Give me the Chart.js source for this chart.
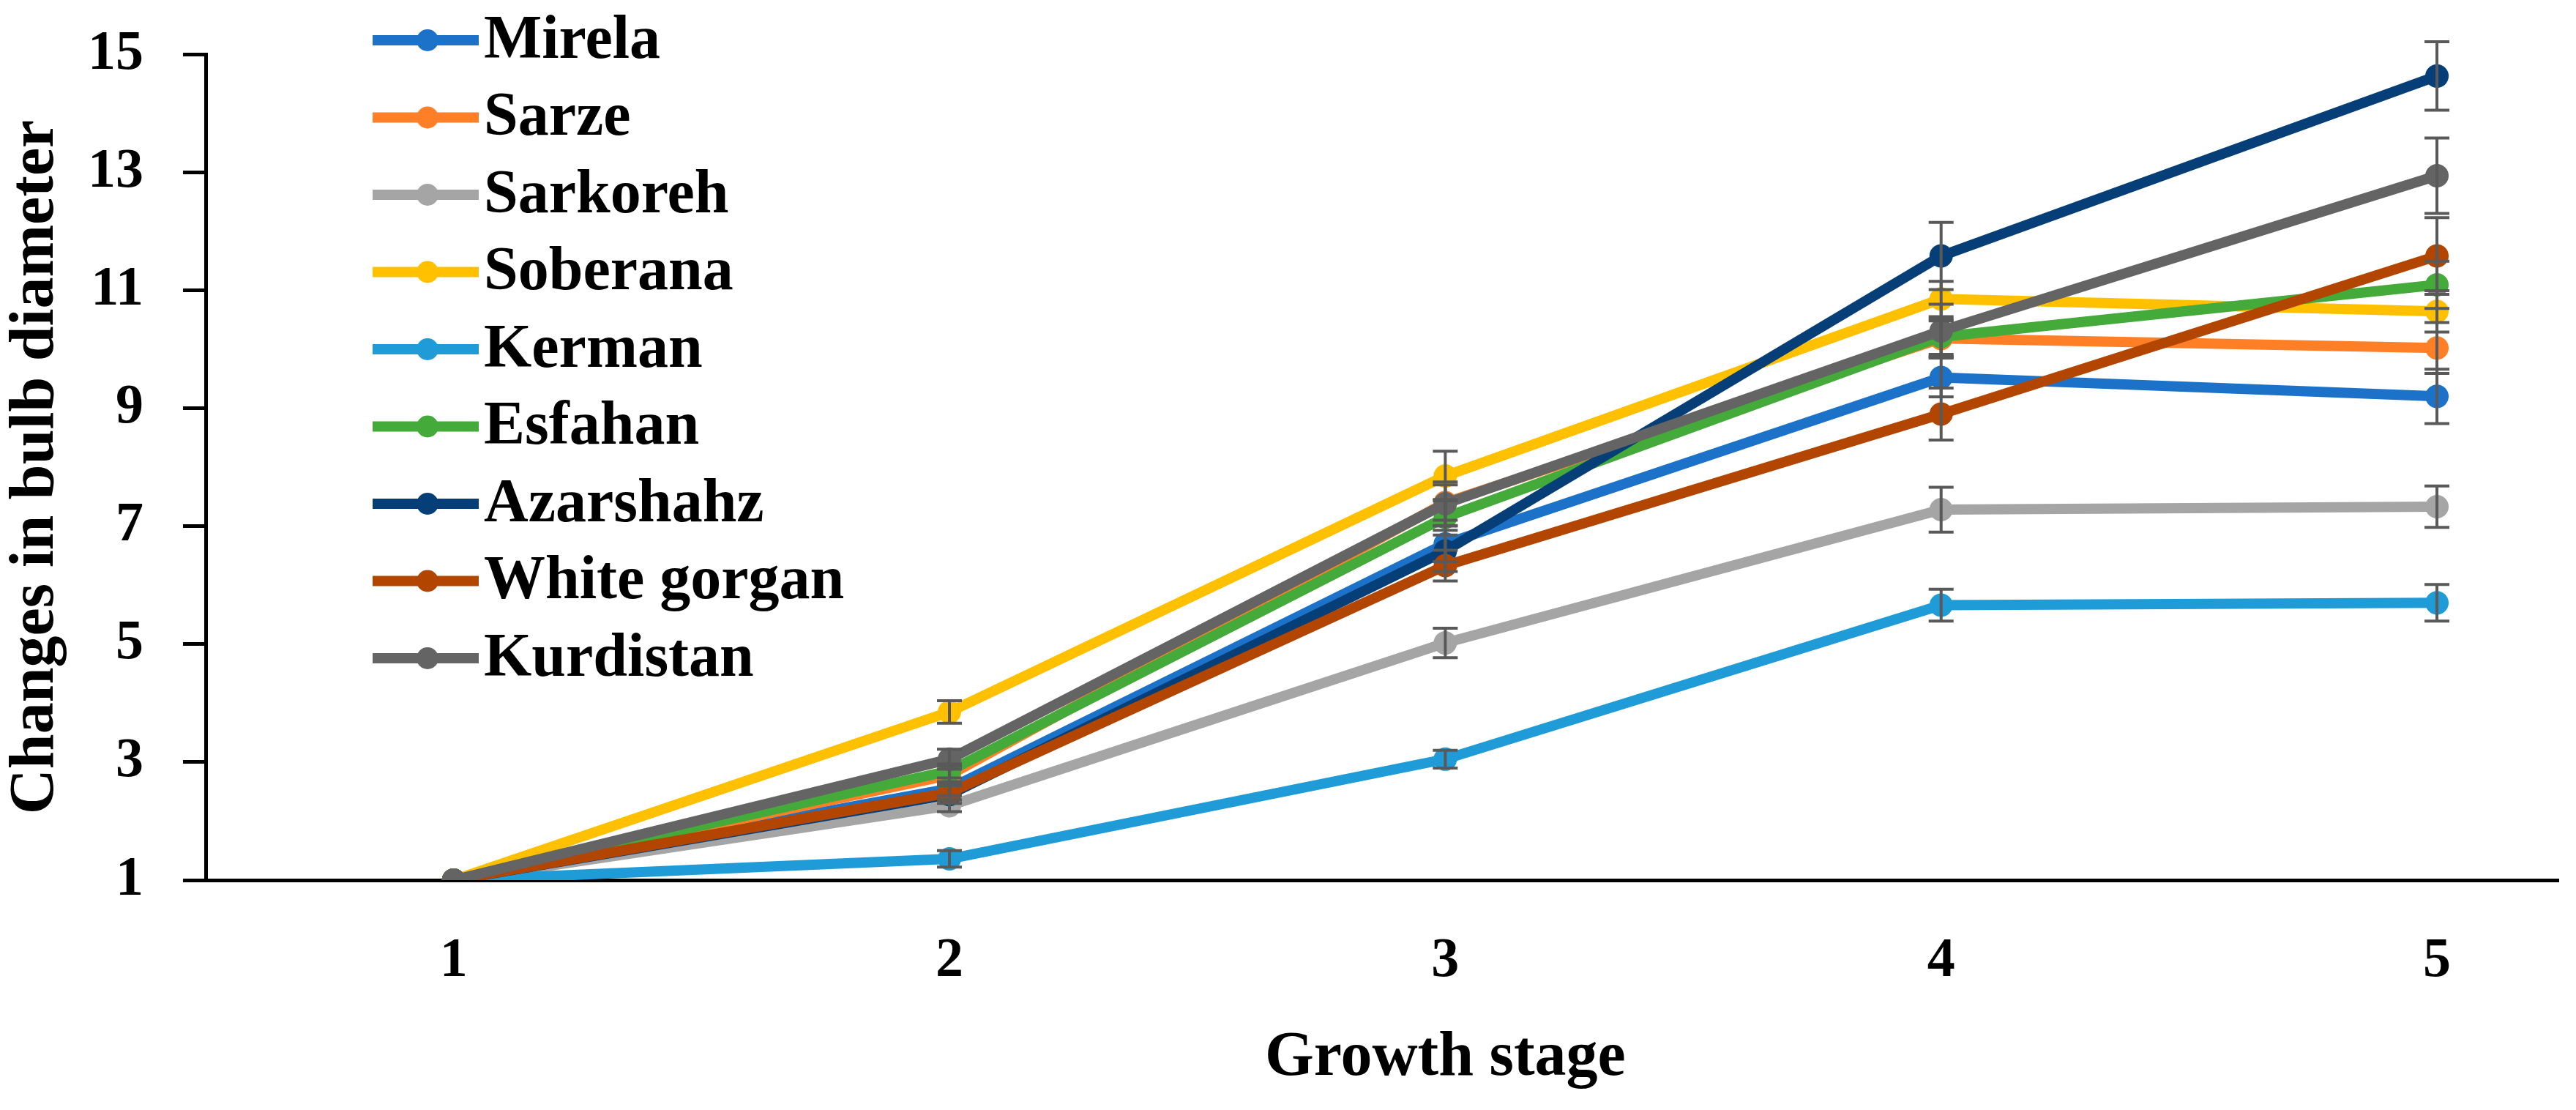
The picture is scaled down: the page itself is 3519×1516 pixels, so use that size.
<!DOCTYPE html>
<html>
<head>
<meta charset="utf-8">
<script src="https://cdn.jsdelivr.net/npm/chart.js@4.4.1/dist/chart.umd.min.js"></script>
<style>
  html, body { margin: 0; padding: 0; background: #fff; overflow: hidden; }
  #wrap { width: 3519px; height: 1516px; position: relative; }
</style>
</head>
<body>
<div id="wrap"><canvas id="bulbchart"></canvas></div>
<script>
// growth stages (x) and y ticks
var stages = [1, 2, 3, 4, 5];
var yTicks = [1, 3, 5, 7, 9, 11, 13, 15];

var varieties = ['Mirela', 'Sarze', 'Sarkoreh', 'Soberana', 'Kerman', 'Esfahan', 'Azarshahz', 'White gorgan', 'Kurdistan'];
var colors = ['#1b72c8', '#ff7f27', '#a5a5a5', '#ffc000', '#1f9cd8', '#44ab3a', '#063f78', '#b24600', '#646464'];

// mean change in bulb diameter per stage
var mirela      = [1, 2.55, 6.70, 9.52, 9.20];
var sarze       = [1, 2.78, 7.40, 10.18, 10.02];
var sarkoreh    = [1, 2.26, 5.02, 7.28, 7.33];
var soberana    = [1, 3.85, 7.85, 10.85, 10.64];
var kerman      = [1, 1.36, 3.05, 5.66, 5.70];
var esfahan     = [1, 2.85, 7.15, 10.21, 11.09];
var azarshahz   = [1, 2.45, 6.58, 11.58, 14.63];
var whiteGorgan = [1, 2.48, 6.33, 8.90, 11.58];
var kurdistan   = [1, 3.05, 7.38, 10.31, 12.94];

// error bar half lengths
var mirelaErr      = [0, 0.12, 0.30, 0.33, 0.46];
var sarzeErr       = [0, 0.15, 0.30, 0.30, 0.43];
var sarkorehErr    = [0, 0.10, 0.25, 0.38, 0.35];
var soberanaErr    = [0, 0.19, 0.42, 0.30, 0.35];
var kermanErr      = [0, 0.14, 0.15, 0.27, 0.31];
var esfahanErr     = [0, 0.12, 0.30, 0.30, 0.40];
var azarshahzErr   = [0, 0.15, 0.35, 0.57, 0.58];
var whiteGorganErr = [0, 0.12, 0.26, 0.44, 0.65];
var kurdistanErr   = [0, 0.17, 0.37, 0.45, 0.64];

var series = [mirela, sarze, sarkoreh, soberana, kerman, esfahan, azarshahz, whiteGorgan, kurdistan];
var errors = [mirelaErr, sarzeErr, sarkorehErr, soberanaErr, kermanErr, esfahanErr, azarshahzErr, whiteGorganErr, kurdistanErr];

var serif = '"Liberation Serif", "Times New Roman", serif';

var datasets = varieties.map(function (name, i) {
    return {
        label: name,
        data: stages.map(function (s, j) { return { x: s, y: series[i][j] }; }),
        borderColor: colors[i],
        backgroundColor: colors[i],
        pointBackgroundColor: colors[i],
        pointBorderWidth: 0,
        pointRadius: 16,
        pointHoverRadius: 16,
        borderWidth: 14,
        tension: 0,
        order: varieties.length - i   // later series on top, like Excel
    };
});

// error bars, custom legend and x title
var extras = {
    id: 'extras',
    afterDatasetsDraw: function (chart) {
        var ctx = chart.ctx, ys = chart.scales.y;
        ctx.save();
        ctx.strokeStyle = '#595959';
        ctx.lineWidth = 4;
        for (var d = 0; d < series.length; d++) {
            var meta = chart.getDatasetMeta(d);
            for (var j = 0; j < stages.length; j++) {
                var e = errors[d][j];
                if (!e) continue;
                var x = meta.data[j].x;
                var t = ys.getPixelForValue(series[d][j] + e);
                var b = ys.getPixelForValue(series[d][j] - e);
                ctx.beginPath();
                ctx.moveTo(x, t); ctx.lineTo(x, b);
                ctx.moveTo(x - 17, t); ctx.lineTo(x + 17, t);
                ctx.moveTo(x - 17, b); ctx.lineTo(x + 17, b);
                ctx.stroke();
            }
        }
        ctx.restore();
    },
    afterDraw: function (chart) {
        var ctx = chart.ctx;
        ctx.save();
        // legend
        ctx.font = 'bold 84px ' + serif;
        ctx.textBaseline = 'middle';
        ctx.textAlign = 'left';
        for (var i = 0; i < varieties.length; i++) {
            var y = 55 + i * 105.5;
            ctx.strokeStyle = colors[i];
            ctx.lineWidth = 14;
            ctx.beginPath();
            ctx.moveTo(509, y); ctx.lineTo(654, y);
            ctx.stroke();
            ctx.fillStyle = colors[i];
            ctx.beginPath();
            ctx.arc(584, y, 15, 0, Math.PI * 2);
            ctx.fill();
            ctx.fillStyle = '#000';
            ctx.fillText(varieties[i], 661, y + 2);
        }
        // x axis title, centred on stage 3
        ctx.textAlign = 'center';
        ctx.textBaseline = 'alphabetic';
        ctx.font = 'bold 86px ' + serif;
        ctx.fillText('Growth stage', chart.scales.x.getPixelForValue(3), 1468);
        ctx.restore();
    }
};

new Chart(document.getElementById('bulbchart'), {
    type: 'line',
    data: { datasets: datasets },
    plugins: [extras],
    options: {
        responsive: true,
        maintainAspectRatio: false,
        devicePixelRatio: 1,
        animation: false,
        layout: { padding: { top: 74, right: 24, left: 0, bottom: 0 } },
        plugins: {
            legend: { display: false },
            tooltip: { enabled: false }
        },
        scales: {
            x: {
                type: 'linear',
                min: 0.5,
                max: 5.245,
                afterBuildTicks: function (s) { s.ticks = stages.map(function (v) { return { value: v }; }); },
                afterFit: function (s) { s.height = 314; s.paddingLeft = 0; s.paddingRight = 0; },
                grid: { drawOnChartArea: false, drawTicks: false },
                border: { display: true, color: '#000', width: 5 },
                ticks: {
                    color: '#000',
                    padding: 66,
                    font: { family: serif, size: 76, weight: 'bold' }
                }
            },
            y: {
                min: 1,
                max: 15,
                afterBuildTicks: function (s) { s.ticks = yTicks.map(function (v) { return { value: v }; }); },
                afterFit: function (s) { s.width = 281; s.paddingTop = 0; s.paddingBottom = 0; },
                grid: { drawOnChartArea: false, drawTicks: true, tickLength: 31, tickWidth: 5, tickColor: '#000' },
                border: { display: true, color: '#000', width: 5 },
                ticks: {
                    color: '#000',
                    padding: 54,
                    font: { family: serif, size: 76, weight: 'bold' }
                },
                title: {
                    display: true,
                    text: 'Changes in bulb diameter',
                    color: '#000',
                    padding: 0,
                    font: { family: serif, size: 86, weight: 'bold', lineHeight: 1.15 }
                }
            }
        }
    }
});
</script>
</body>
</html>
